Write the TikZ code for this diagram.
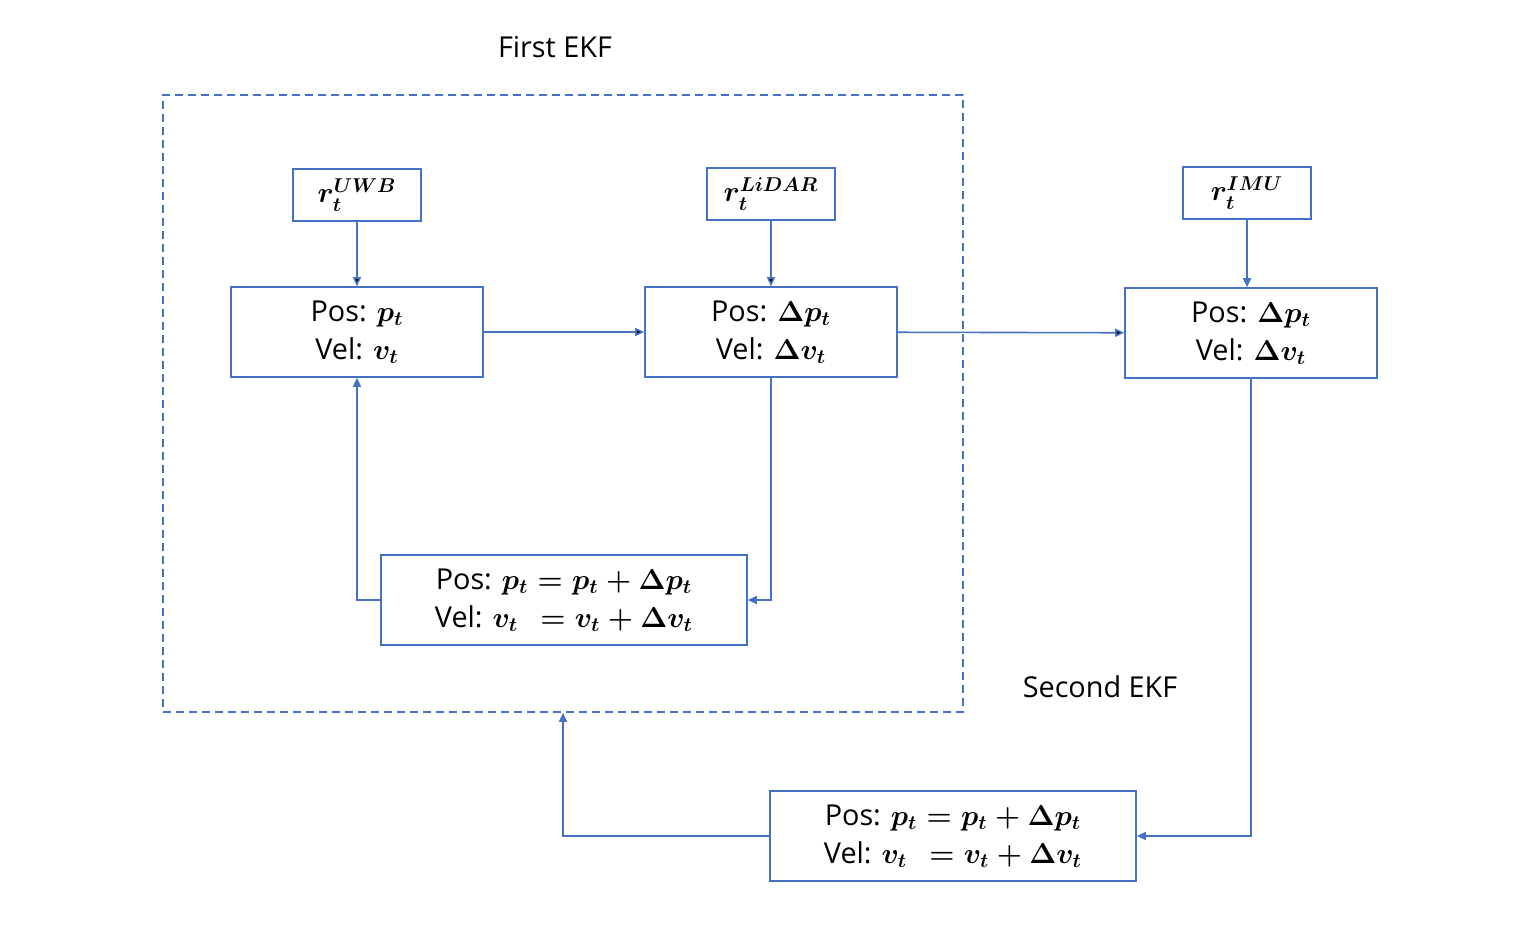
\documentclass[tikz,border=0pt]{standalone}
\usepackage{fontspec}
\setmainfont{Open Sans}
\usetikzlibrary{arrows.meta}
\definecolor{ekfblue}{HTML}{4472C4}
\newcommand{\ekffont}{\fontsize{14.4}{19}\selectfont\boldmath}

\tikzset{
  ekfbox/.style={draw=ekfblue, line width=0.8pt, minimum width=126pt, minimum height=45pt,
    inner sep=0pt, align=center, font=\ekffont},
  upbox/.style={ekfbox, minimum width=183pt},
  sensor/.style={draw=ekfblue, line width=0.8pt, minimum width=64pt, minimum height=26pt,
    inner sep=0pt, font=\ekffont},
  frame/.style={draw=ekfblue, line width=0.8pt, dash pattern=on 4pt off 2.5pt,
    minimum width=400pt, minimum height=308.5pt, inner sep=0pt},
  title/.style={font=\ekffont},
}

\begin{document}
\begin{tikzpicture}[x=0.5pt, y=-0.5pt, >={Triangle[length=4.5pt,width=4pt]}]
			\useasboundingbox (0,0) rectangle (1536,950);
			% first EKF
			\node[frame] (first) at (563,403.5) {};
			\node[title] (firstlab) at (555,47) {First EKF};
			\node[title] (secondlab) at (1100,687) {Second EKF};
			% measurements
			\node[sensor] (uwb) at (357,195) {$r_t^{UWB}$};
			\node[sensor] (lidar) at (771,194) {$r_t^{LiDAR}$};
			\node[sensor] (imu) at (1247,193) {$r_t^{IMU}$};
			% states
			\node[ekfbox] (pos) at (357,332) {Pos: $p_t$\\Vel: $v_t$};
			\node[ekfbox] (dlidar) at (771,332) {Pos: $\Delta p_t$\\Vel: $\Delta v_t$};
			\node[ekfbox] (dimu) at (1251,333) {Pos: $\Delta p_t$\\Vel: $\Delta v_t$};
			\node[upbox] (upfirst) at (564,600)
				{Pos: $p_t = p_t + \Delta p_t$\\Vel: $v_t\ \, = v_t + \Delta v_t$};
			\node[upbox] (upsecond) at (953,836)
				{Pos: $p_t = p_t + \Delta p_t$\\Vel: $v_t\ \, = v_t + \Delta v_t$};
			\path[->, draw=ekfblue, line width=0.8pt]
			(uwb) edge (pos)
			(lidar) edge (dlidar)
			(pos) edge (dlidar)
			(dlidar) edge (dimu);
			\draw[->, ekfblue, line width=0.8pt] (imu.south) -- (imu.south |- dimu.north);
			\draw[->, ekfblue, line width=0.8pt] (dlidar.south) |- (upfirst.east);
			\draw[->, ekfblue, line width=0.8pt] (upfirst.west) -| (pos.south);
			\draw[->, ekfblue, line width=0.8pt] (dimu.south) |- (upsecond.east);
			\draw[->, ekfblue, line width=0.8pt] (upsecond.west) -| (first.south);
		\end{tikzpicture}
\end{document}
